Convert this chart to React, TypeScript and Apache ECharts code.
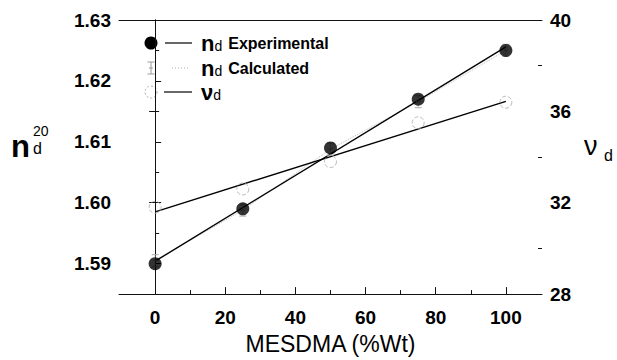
import React, { useEffect, useRef } from 'react';
import * as echarts from 'echarts';

const xValues = [0, 25, 50, 75, 100];
const ndExperimental = [1.59, 1.599, 1.609, 1.617, 1.625];
const ndCalculated = [1.5905, 1.5988, 1.6088, 1.6166, 1.625];
const nuD = [31.8, 32.6, 33.8, 35.5, 36.4];
const xTickLabels = [0, 20, 40, 60, 80, 100];
const xMinorTicks = [10, 30, 50, 70, 90];
const leftTickLabels = [1.59, 1.6, 1.61, 1.62, 1.63];
const leftMinorTicks = [1.595, 1.605, 1.615, 1.625];
const rightTickLabels = [28, 32, 36, 40];
const rightMinorTicks = [30, 34, 38];

const FONT = "'Liberation Sans', Arial, sans-serif";

function linearFit(xs: number[], ys: number[]): number[][] {
  const n = xs.length;
  const mx = xs.reduce((a, b) => a + b, 0) / n;
  const my = ys.reduce((a, b) => a + b, 0) / n;
  let sxy = 0;
  let sxx = 0;
  for (let i = 0; i < n; i++) {
    sxy += (xs[i] - mx) * (ys[i] - my);
    sxx += (xs[i] - mx) * (xs[i] - mx);
  }
  const b = sxy / sxx;
  const a = my - b * mx;
  const x0 = Math.min(...xs);
  const x1 = Math.max(...xs);
  return [
    [x0, a + b * x0],
    [x1, a + b * x1],
  ];
}

const errSymbol = 'path://M0,0L10,0M5,0L5,20M0,20L10,20M2,10L8,10';

const legendRich = {
  n: { fontSize: 22, fontWeight: 'bold', fontFamily: FONT, fill: '#000', lineHeight: 20 },
  d: { fontSize: 14, fontFamily: FONT, fill: '#000', lineHeight: 20, verticalAlign: 'bottom', padding: [6, 0, 0, 0] },
  t: { fontSize: 16, fontWeight: 'bold', fontFamily: FONT, fill: '#000', lineHeight: 20, padding: [0, 0, 0, 6] },
};

const ROW1 = 43;
const ROW2 = 68;
const ROW3 = 92;

export default function App() {
  const ref = useRef<HTMLDivElement>(null);
  useEffect(() => {
    if (!ref.current) return;
    const chart = echarts.init(ref.current, undefined, { renderer: 'svg' });
    const axisLineStyle = { color: '#111', width: 1 };
    const tickLabel = { color: '#000', fontSize: 19, fontWeight: 'bold' as const, fontFamily: FONT };
    const xMin = -10.3;
    const xMax = 110.3;
    const option: any = {
      animation: false,
      backgroundColor: '#fff',
      grid: { left: 119, right: 75, top: 20, bottom: 59, containLabel: false },
      xAxis: [
        {
          type: 'value',
          min: xMin,
          max: xMax,
          position: 'bottom',
          axisLine: { show: true, lineStyle: axisLineStyle },
          axisTick: { show: true, inside: true, length: 7, customValues: xTickLabels, lineStyle: axisLineStyle },
          axisLabel: { ...tickLabel, margin: 14, customValues: xTickLabels },
          splitLine: { show: false },
          name: 'MESDMA (%Wt)',
          nameLocation: 'middle',
          nameGap: 35,
          nameTextStyle: { color: '#000', fontSize: 23, fontFamily: FONT },
        },
        {
          type: 'value',
          min: xMin,
          max: xMax,
          position: 'bottom',
          axisLine: { show: false },
          axisTick: { show: true, inside: true, length: 4, customValues: xMinorTicks, lineStyle: axisLineStyle },
          axisLabel: { show: false },
          splitLine: { show: false },
        },
        {
          type: 'value',
          min: xMin,
          max: xMax,
          position: 'top',
          axisLine: { show: true, lineStyle: axisLineStyle },
          axisTick: { show: false },
          axisLabel: { show: false },
          splitLine: { show: false },
        },
      ],
      yAxis: [
        {
          type: 'value',
          min: 1.585,
          max: 1.63,
          position: 'left',
          axisLine: { show: true, lineStyle: axisLineStyle },
          axisTick: { show: true, inside: true, length: 6, customValues: leftTickLabels, lineStyle: axisLineStyle },
          axisLabel: { ...tickLabel, margin: 8, customValues: leftTickLabels, formatter: (v: number) => v.toFixed(2) },
          splitLine: { show: false },
        },
        {
          type: 'value',
          min: 28,
          max: 40,
          position: 'right',
          axisLine: { show: true, lineStyle: axisLineStyle },
          axisTick: { show: true, inside: true, length: 6, customValues: rightTickLabels, lineStyle: axisLineStyle },
          axisLabel: { ...tickLabel, margin: 8, customValues: rightTickLabels },
          splitLine: { show: false },
        },
        {
          type: 'value',
          min: 1.585,
          max: 1.63,
          position: 'left',
          axisLine: { show: false },
          axisTick: { show: true, inside: true, length: 4, customValues: leftMinorTicks, lineStyle: axisLineStyle },
          axisLabel: { show: false },
          splitLine: { show: false },
        },
        {
          type: 'value',
          min: 28,
          max: 40,
          position: 'right',
          axisLine: { show: false },
          axisTick: { show: true, inside: true, length: 4, customValues: rightMinorTicks, lineStyle: axisLineStyle },
          axisLabel: { show: false },
          splitLine: { show: false },
        },
      ],
      series: [
        {
          name: 'nd Calculated line',
          type: 'line',
          xAxisIndex: 0,
          yAxisIndex: 0,
          data: xValues.map((x, i) => [x, ndCalculated[i]]),
          symbol: 'none',
          lineStyle: { color: '#bbb', width: 1, type: 'dotted' },
          z: 2,
        },
        {
          name: 'nd Experimental fit',
          type: 'line',
          xAxisIndex: 0,
          yAxisIndex: 0,
          data: linearFit(xValues, ndExperimental),
          symbol: 'none',
          lineStyle: { color: '#000', width: 1.4 },
          z: 3,
        },
        {
          name: 'vd fit',
          type: 'line',
          xAxisIndex: 0,
          yAxisIndex: 1,
          data: linearFit(xValues, nuD),
          symbol: 'none',
          lineStyle: { color: '#000', width: 1.4 },
          z: 3,
        },
        {
          name: 'vd',
          type: 'scatter',
          xAxisIndex: 0,
          yAxisIndex: 1,
          data: xValues.map((x, i) => [x, nuD[i]]),
          symbol: 'circle',
          symbolSize: 12,
          itemStyle: { color: 'rgba(0,0,0,0)', borderColor: '#aaa', borderWidth: 1, borderType: 'dashed' },
          z: 4,
        },
        {
          name: 'nd Calculated',
          type: 'scatter',
          xAxisIndex: 0,
          yAxisIndex: 0,
          data: xValues.map((x, i) => [x, ndCalculated[i]]),
          symbol: errSymbol,
          symbolSize: [7, 12],
          itemStyle: { color: 'rgba(0,0,0,0)', borderColor: '#aaa', borderWidth: 1 },
          z: 4,
        },
        {
          name: 'nd Experimental',
          type: 'scatter',
          xAxisIndex: 0,
          yAxisIndex: 0,
          data: xValues.map((x, i) => [x, ndExperimental[i]]),
          symbol: 'circle',
          symbolSize: 13,
          itemStyle: { color: '#000' },
          z: 5,
        },
      ],
      graphic: [
        // legend row 1
        { type: 'circle', shape: { cx: 151, cy: ROW1, r: 6.5 }, style: { fill: '#000' } },
        { type: 'line', shape: { x1: 165, y1: ROW1, x2: 192, y2: ROW1 }, style: { stroke: '#000', lineWidth: 1.2 } },
        {
          type: 'text',
          x: 201,
          y: ROW1,
          style: { text: '{n|n}{d|d}{t|Experimental}', verticalAlign: 'middle', rich: legendRich },
        },
        // legend row 2
        {
          type: 'group',
          x: 151,
          y: ROW2,
          children: [
            { type: 'line', shape: { x1: -3.5, y1: -6, x2: 3.5, y2: -6 }, style: { stroke: '#999', lineWidth: 1 } },
            { type: 'line', shape: { x1: 0, y1: -6, x2: 0, y2: 6 }, style: { stroke: '#999', lineWidth: 1 } },
            { type: 'line', shape: { x1: -3.5, y1: 6, x2: 3.5, y2: 6 }, style: { stroke: '#999', lineWidth: 1 } },
            { type: 'line', shape: { x1: -2, y1: 0, x2: 2, y2: 0 }, style: { stroke: '#999', lineWidth: 1 } },
          ],
        },
        { type: 'line', shape: { x1: 172, y1: ROW2, x2: 190, y2: ROW2 }, style: { stroke: '#aaa', lineWidth: 1, lineDash: [1, 2] } },
        {
          type: 'text',
          x: 201,
          y: ROW2,
          style: { text: '{n|n}{d|d}{t|Calculated}', verticalAlign: 'middle', rich: legendRich },
        },
        // legend row 3
        { type: 'circle', shape: { cx: 151, cy: ROW3, r: 6 }, style: { fill: 'none', stroke: '#aaa', lineWidth: 1, lineDash: [2, 2] } },
        { type: 'line', shape: { x1: 164, y1: ROW3, x2: 192, y2: ROW3 }, style: { stroke: '#000', lineWidth: 1.2 } },
        {
          type: 'text',
          x: 201,
          y: ROW3,
          style: { text: '{n|ν}{d|d}', verticalAlign: 'middle', rich: legendRich },
        },
        // left axis title
        { type: 'text', x: 11, y: 131, style: { text: 'n', fontSize: 31, fontWeight: 'bold', fontFamily: FONT, fill: '#000' } },
        { type: 'text', x: 33, y: 124, style: { text: '20', fontSize: 14, fontFamily: FONT, fill: '#000' } },
        { type: 'text', x: 33, y: 140, style: { text: 'd', fontSize: 16, fontFamily: FONT, fill: '#000' } },
        // right axis title
        { type: 'text', x: 584, y: 132, style: { text: 'ν', fontSize: 27, fontFamily: FONT, fill: '#000' } },
        { type: 'text', x: 604, y: 147, style: { text: 'd', fontSize: 16, fontFamily: FONT, fill: '#000' } },
      ],
    };
    chart.setOption(option);
    return () => chart.dispose();
  }, []);
  return (
    <div
      ref={ref}
      style={{ position: 'fixed', left: 0, top: 0, width: 617, height: 360, background: '#fff' }}
    />
  );
}
